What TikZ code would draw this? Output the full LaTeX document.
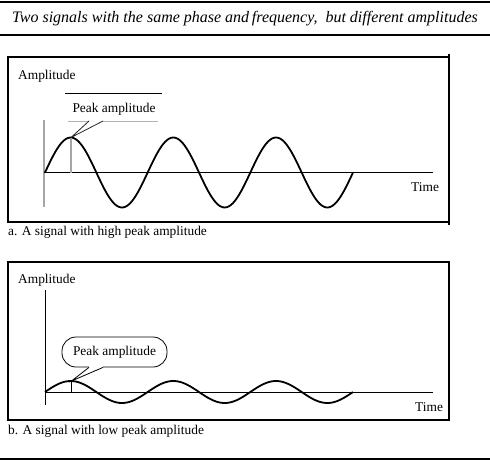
\documentclass[tikz,border=0pt]{standalone}
\usepackage{fontspec}
\setmainfont{Liberation Serif}
\begin{document}
\begin{tikzpicture}[x=1pt,y=-1pt,
  lbl/.style={inner sep=0pt,font=\fontsize{13.4}{16}\selectfont},
  frame/.style={line width=1.2pt},
  rule/.style={line width=1.1pt},
  wave/.style={line width=1.8pt,line join=round},
  axis/.style={line width=1pt},
  gaxis/.style={line width=1.2pt,gray!70}]
\useasboundingbox (0,0) rectangle (490,460);
% title rules
\coordinate (r1l) at (0,2); \coordinate (r1r) at (490,2);
\coordinate (r2l) at (0,35); \coordinate (r2r) at (490,35);
\coordinate (r3l) at (0,459); \coordinate (r3r) at (490,459);
\draw[rule] (r1l) -- (r1r);
\draw[rule] (r2l) -- (r2r);
\draw[rule] (r3l) -- (r3r);
\node[lbl,font=\fontsize{16}{18}\selectfont\itshape] (title) at (245,19) {Two signals with the same phase and\,frequency,\ \ but different amplitudes};

% ---------- panel a ----------
\draw[frame] (8,57) rectangle (449,222);
\draw[frame] (449,54) -- (449,57) (449,222) -- (449,225);
\node[lbl,anchor=west] (ampa) at (18,76) {Amplitude};
\coordinate (ya0) at (44,120); \coordinate (ya1) at (44,207);
\draw[gaxis] (ya0) -- (ya1);
\coordinate (xa0) at (44,172.5); \coordinate (xa1) at (433,172.5);
\draw[axis] (xa0) -- (xa1);
\draw[wave] plot[domain=0:3,samples=150,smooth] ({45+102.67*\x},{172.5-35*sin(360*\x)});
\coordinate (peaka) at (71,137.5);
\coordinate (pka0) at (71,172.5);
\draw[gaxis] (peaka) -- (pka0);
\node[lbl] (pa) at (114,109) {Peak amplitude};
\coordinate (pat0) at (65,93); \coordinate (pat1) at (162,93);
\draw[line width=1pt] (pat0) -- (pat1);
\coordinate (pab0) at (68,121); \coordinate (pab1) at (89,121);
\coordinate (pab2) at (103,121); \coordinate (pab3) at (158,121);
\draw[gray!60,line width=1pt] (pab0) -- (pab1) (pab2) -- (pab3);
\draw[gray!30!black,line width=0.8pt] (pab1) -- (peaka) -- (pab2);
\node[lbl,anchor=west] (timea) at (411,187) {Time};
\node[lbl,anchor=west] (capa) at (8,232) {a. A signal with high peak amplitude};

% ---------- panel b ----------
\draw[frame] (8,262) rectangle (449,420);
\node[lbl,anchor=west] (ampb) at (18,280) {Amplitude};
\coordinate (yb0) at (45,290); \coordinate (yb1) at (45,405);
\draw[axis] (yb0) -- (yb1);
\coordinate (xb0) at (45,392); \coordinate (xb1) at (433,392);
\draw[axis] (xb0) -- (xb1);
\draw[wave] plot[domain=0:3,samples=150,smooth] ({45+102.67*\x},{392-11*sin(360*\x)});
\coordinate (peakb) at (71.5,381);
\coordinate (pkb0) at (71.5,392);
\draw[line width=0.7pt] (peakb) -- (pkb0);
\node[lbl,draw,line width=0.8pt,rounded corners=14,minimum width=105,minimum height=30] (pb) at (114.5,352) {Peak amplitude};
\fill[white] ([xshift=-25.5pt,yshift=1pt]pb.south) rectangle ([xshift=-11.5pt,yshift=-1pt]pb.south);
\draw[line width=0.8pt] ([xshift=-25.5pt]pb.south) -- (peakb) -- ([xshift=-11.5pt]pb.south);
\node[lbl,anchor=west] (timeb) at (415,407) {Time};
\node[lbl,anchor=west] (capb) at (8,431) {b. A signal with low peak amplitude};
\end{tikzpicture}
\end{document}
